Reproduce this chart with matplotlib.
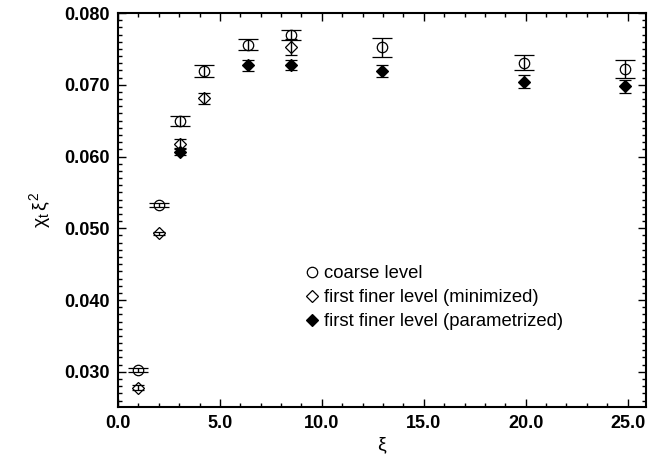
import matplotlib
matplotlib.use("Agg")
import matplotlib.pyplot as plt
from matplotlib.ticker import MultipleLocator, FormatStrFormatter

# coarse level (open circles)
xi_coarse = [1.0, 2.0, 3.05, 4.23, 6.4, 8.5, 12.95, 19.9, 24.85]
chi_coarse = [0.0303, 0.0532, 0.0650, 0.0719, 0.0756, 0.0770, 0.0752, 0.0731, 0.0722]
err_coarse = [0.0003, 0.0003, 0.0007, 0.0008, 0.0008, 0.0007, 0.0013, 0.0010, 0.0013]

# first finer level, minimized (open diamonds)
xi_min = [1.0, 2.0, 3.05, 4.23, 8.5]
chi_min = [0.0278, 0.0493, 0.0618, 0.0681, 0.0753]
err_min = [0.0004, 0.0002, 0.0007, 0.0008, 0.0011]

# first finer level, parametrized (filled diamonds)
xi_par = [3.05, 6.4, 8.5, 12.95, 19.9, 24.85]
chi_par = [0.0607, 0.0727, 0.0727, 0.0719, 0.0704, 0.0698]
err_par = [0.0005, 0.0008, 0.0007, 0.0008, 0.0009, 0.0009]

plt.rcParams['font.family'] = ['Liberation Sans', 'DejaVu Sans']
plt.rcParams['mathtext.fontset'] = 'custom'
plt.rcParams['mathtext.rm'] = 'Liberation Sans'
plt.rcParams['mathtext.it'] = 'Liberation Sans'

fig = plt.figure(figsize=(6.64, 4.66), dpi=100)
ax = fig.add_axes([118 / 664, 1 - 407 / 466, 528 / 664, 394 / 466])

ax.errorbar(xi_coarse, chi_coarse, yerr=err_coarse, fmt='o', ms=7.5, mfc='none',
            mec='black', mew=0.9, ecolor='black', elinewidth=1.0, capsize=7,
            capthick=1.0, label='coarse level', zorder=3)
ax.errorbar(xi_min, chi_min, yerr=err_min, fmt='D', ms=6, mfc='none',
            mec='black', mew=0.9, ecolor='black', elinewidth=1.0, capsize=4,
            capthick=1.0, label='first finer level (minimized)', zorder=3)
ax.errorbar(xi_par, chi_par, yerr=err_par, fmt='D', ms=6.5, mfc='black',
            mec='black', mew=0.9, ecolor='black', elinewidth=1.0, capsize=4,
            capthick=1.0, label='first finer level (parametrized)', zorder=4)

ax.set_xlim(0, 25.9)
ax.set_ylim(0.0251, 0.080)
ax.xaxis.set_major_locator(MultipleLocator(5))
ax.xaxis.set_minor_locator(MultipleLocator(1))
ax.yaxis.set_major_locator(MultipleLocator(0.01))
ax.yaxis.set_minor_locator(MultipleLocator(0.001))
ax.xaxis.set_major_formatter(FormatStrFormatter('%.1f'))
ax.yaxis.set_major_formatter(FormatStrFormatter('%.3f'))
ax.tick_params(which='both', direction='in', top=True, right=True, width=1.0)
ax.tick_params(which='major', length=6, labelsize=13, pad=6)
ax.tick_params(which='minor', length=3)
for lab in ax.get_xticklabels() + ax.get_yticklabels():
    lab.set_fontweight('bold')
for sp in ax.spines.values():
    sp.set_linewidth(1.5)

ax.set_xlabel(r'$\xi$', fontsize=14, labelpad=2)
ax.set_ylabel(r'$\chi_t\,\xi^2$', fontsize=14, labelpad=8)

handles, labels = ax.get_legend_handles_labels()
handles = [h[0] for h in handles]
ax.legend(handles, labels, loc='upper left', bbox_to_anchor=(0.342, 0.378),
          frameon=False, fontsize=13.3, handlelength=0.6, handletextpad=0.4,
          labelspacing=0.38, borderaxespad=0)

fig.savefig('out.png', dpi=100)
